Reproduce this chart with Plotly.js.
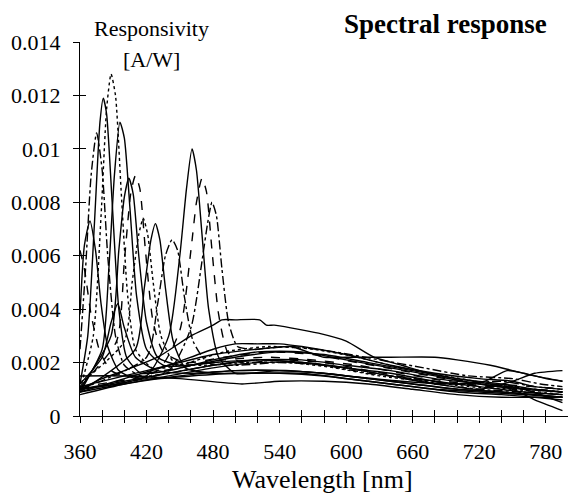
<!DOCTYPE html>
<html>
<head>
<meta charset="utf-8">
<script src="https://cdn.plot.ly/plotly-3.0.1.min.js"></script>
<style>html,body{margin:0;padding:0;background:#fff;}#chart{width:569px;height:501px;}</style>
</head>
<body>
<div id="chart"></div>
<script>
// Wavelength (nm) / responsivity (A/W) pairs, one pair per curve
const p1x = [360,364,369,374,379,385,395,410,430,460,500,540,580,620,660,700,740,770,795];
const p1y = [0.0038,0.0064,0.0073,0.0062,0.0042,0.0026,0.0017,0.0014,0.0014,0.0015,0.0016,0.0016,0.0015,0.0013,0.0011,0.0009,0.0008,0.0007,0.0006];
const p2x = [360,365,370,375,380,385,392,400,415,440,480,520,560,600,640,680,720,760,795];
const p2y = [0.0025,0.0055,0.0090,0.0106,0.0092,0.0060,0.0030,0.0019,0.0015,0.0016,0.0019,0.0021,0.0020,0.0018,0.0015,0.0012,0.0010,0.0009,0.0008];
const p3x = [360,367,373,378,381,384,389,395,402,415,440,480,520,560,600,640,680,720,760,795];
const p3y = [0.0012,0.0030,0.0072,0.0110,0.0119,0.0113,0.0080,0.0040,0.0022,0.0016,0.0017,0.0021,0.0024,0.0024,0.0021,0.0018,0.0015,0.0012,0.0010,0.0009];
const p4x = [360,372,379,384,388,392,397,403,410,425,450,490,530,570,610,650,690,730,770,795];
const p4y = [0.0010,0.0030,0.0075,0.0115,0.0128,0.0120,0.0085,0.0045,0.0025,0.0018,0.0019,0.0024,0.0026,0.0025,0.0022,0.0018,0.0015,0.0012,0.0010,0.0009];
const p5x = [360,380,386,391,396,400,405,411,420,435,460,500,540,580,620,660,700,740,770,795];
const p5y = [0.0009,0.0025,0.0055,0.0090,0.0110,0.0104,0.0078,0.0045,0.0025,0.0019,0.0019,0.0022,0.0024,0.0023,0.0020,0.0017,0.0014,0.0012,0.0010,0.0009];
const p6x = [360,388,395,400,404,408,413,420,430,450,480,520,560,600,640,680,720,760,795];
const p6y = [0.0010,0.0030,0.0062,0.0082,0.0089,0.0083,0.0060,0.0035,0.0022,0.0019,0.0020,0.0021,0.0020,0.0018,0.0016,0.0013,0.0011,0.0009,0.0008];
const p7x = [360,393,400,406,410,414,419,426,435,455,490,530,570,610,650,690,730,770,795];
const p7y = [0.0011,0.0028,0.0058,0.0084,0.0090,0.0085,0.0062,0.0035,0.0024,0.0020,0.0022,0.0024,0.0023,0.0020,0.0017,0.0014,0.0012,0.0011,0.0010];
const p8x = [360,400,407,413,417,421,426,433,445,470,510,550,590,630,670,710,750,795];
const p8y = [0.0012,0.0028,0.0050,0.0068,0.0074,0.0068,0.0050,0.0030,0.0020,0.0019,0.0020,0.0020,0.0018,0.0015,0.0013,0.0011,0.0010,0.0008];
const p9x = [360,410,418,424,428,432,437,444,455,480,520,560,600,640,680,720,760,795];
const p9y = [0.0009,0.0025,0.0048,0.0066,0.0072,0.0066,0.0048,0.0028,0.0018,0.0016,0.0016,0.0016,0.0014,0.0012,0.0010,0.0009,0.0008,0.0007];
const p10x = [360,420,430,437,443,448,454,462,475,500,540,580,620,660,700,740,770,795];
const p10y = [0.0010,0.0022,0.0042,0.0060,0.0066,0.0062,0.0045,0.0028,0.0020,0.0019,0.0020,0.0019,0.0016,0.0014,0.0012,0.0013,0.0011,0.0010];
const p11x = [360,420,440,450,456,461,465,470,476,485,500,540,580,620,660,700,740,770,795];
const p11y = [0.0010,0.0015,0.0030,0.0060,0.0085,0.0100,0.0092,0.0068,0.0040,0.0022,0.0016,0.0017,0.0016,0.0014,0.0012,0.0010,0.0009,0.0008,0.0007];
const p12x = [360,430,450,460,465,470,474,479,485,493,505,540,580,620,660,700,740,770,795];
const p12y = [0.0011,0.0017,0.0032,0.0062,0.0080,0.0089,0.0084,0.0062,0.0038,0.0024,0.0020,0.0021,0.0020,0.0017,0.0014,0.0012,0.0011,0.0010,0.0009];
const p13x = [360,440,460,470,475,479,483,488,494,502,515,550,590,630,670,710,750,775,795];
const p13y = [0.0010,0.0017,0.0033,0.0058,0.0072,0.0080,0.0075,0.0055,0.0035,0.0026,0.0025,0.0026,0.0024,0.0021,0.0018,0.0015,0.0014,0.0012,0.0011];
const p14x = [360,364,370,378,388,400,420,450,490,530,570,610,650,690,730,770,795];
const p14y = [0.0062,0.0055,0.0038,0.0024,0.0017,0.0015,0.0016,0.0018,0.0021,0.0022,0.0021,0.0019,0.0016,0.0013,0.0011,0.0010,0.0009];
const p15x = [360,380,388,394,400,410,430,460,500,540,580,620,660,700,740,770,795];
const p15y = [0.0012,0.0022,0.0035,0.0042,0.0033,0.0022,0.0017,0.0016,0.0017,0.0017,0.0016,0.0014,0.0012,0.0010,0.0009,0.0008,0.0007];
const b1x = [360,380,400,430,460,480,488,500,522,528,535,550,575,600,625,650,675,700,730,760,795];
const b1y = [0.0010,0.0014,0.0017,0.0022,0.0030,0.0034,0.0036,0.0036,0.0036,0.0034,0.0034,0.0033,0.0031,0.0028,0.0022,0.0019,0.0016,0.0014,0.0012,0.0010,0.0005];
const b2x = [360,400,440,480,500,520,540,560,600,640,680,720,750,770,795];
const b2y = [0.0009,0.0014,0.0019,0.0025,0.0027,0.0027,0.0027,0.0026,0.0023,0.0019,0.0016,0.0014,0.0013,0.0011,0.0010];
const b3x = [360,400,440,480,520,550,580,600,640,680,700,730,750,770,795];
const b3y = [0.0011,0.0015,0.0019,0.0023,0.0025,0.0026,0.0022,0.0022,0.0022,0.0022,0.0021,0.0019,0.0017,0.0015,0.0013];
const b4x = [360,400,450,506,540,580,620,660,700,740,770,795];
const b4y = [0.0015,0.0015,0.0014,0.0012,0.0013,0.0013,0.0012,0.0010,0.0008,0.0007,0.0007,0.0007];
const b5x = [360,400,440,480,520,560,600,640,680,720,750,770,795];
const b5y = [0.0008,0.0012,0.0015,0.0018,0.0020,0.0020,0.0018,0.0015,0.0012,0.0010,0.0013,0.0016,0.0017];
const b6x = [360,400,440,480,520,560,600,640,680,720,750,770,795];
const b6y = [0.0010,0.0013,0.0016,0.0019,0.0021,0.0021,0.0019,0.0017,0.0014,0.0012,0.0010,0.0006,0.0002];
const b7x = [360,400,450,500,550,600,650,700,725,745,760,780,795];
const b7y = [0.0009,0.0012,0.0015,0.0017,0.0017,0.0015,0.0013,0.0012,0.0013,0.0017,0.0016,0.0014,0.0013];

const xTickVals = [360,380,400,420,440,460,480,500,520,540,560,580,600,620,640,660,680,700,720,740,760,780];
const xTickText = ['360','','','420','','','480','','','540','','','600','','','660','','','720','','','780'];
const yTickVals = [0,0.002,0.004,0.006,0.008,0.01,0.012,0.014];
const yTickText = ['0','0.002','0.004','0.006','0.008','0.01','0.012','0.014'];

const curves = [
  [p1x,p1y,'solid'],[p2x,p2y,'dashdot'],[p3x,p3y,'solid'],[p4x,p4y,'dot'],
  [p5x,p5y,'solid'],[p6x,p6y,'solid'],[p7x,p7y,'dash'],[p8x,p8y,'dot'],
  [p9x,p9y,'solid'],[p10x,p10y,'dashdot'],[p11x,p11y,'solid'],[p12x,p12y,'dash'],
  [p13x,p13y,'dashdot'],[p14x,p14y,'dash'],[p15x,p15y,'solid'],
  [b1x,b1y,'solid'],[b2x,b2y,'solid'],[b3x,b3y,'solid'],[b4x,b4y,'solid'],
  [b5x,b5y,'solid'],[b6x,b6y,'solid'],[b7x,b7y,'solid']
];

const traces = curves.map(c => ({
  x: c[0], y: c[1], type: 'scatter', mode: 'lines',
  line: {color: '#000', width: 1.4, dash: c[2], shape: 'spline', smoothing: 0.6},
  hoverinfo: 'skip', showlegend: false
}));
// empty helper trace so the overlay axes (inner half of the crossing ticks) are drawn
traces.push({x: [], y: [], xaxis: 'x2', yaxis: 'y2', type: 'scatter', mode: 'lines', showlegend: false});

const serif = '"Times New Roman", "Liberation Serif", Times, serif';
const layout = {
  width: 569, height: 501,
  margin: {l: 80, r: 1, t: 42, b: 85},
  paper_bgcolor: '#fff', plot_bgcolor: '#fff',
  font: {family: serif, color: '#000', size: 22},
  xaxis: {
    range: [360, 800], showgrid: false, zeroline: false,
    showline: true, linecolor: '#000', linewidth: 1,
    tickmode: 'array', tickvals: xTickVals, ticktext: xTickText,
    ticks: 'outside', ticklen: 6, tickcolor: '#000', tickwidth: 1,
    ticklabelstandoff: 10,
    tickfont: {family: serif, size: 22, color: '#000'}
  },
  yaxis: {
    range: [0, 0.014], showgrid: false, zeroline: false,
    showline: true, linecolor: '#000', linewidth: 1,
    tickmode: 'array', tickvals: yTickVals, ticktext: yTickText,
    ticks: 'outside', ticklen: 6, tickcolor: '#000', tickwidth: 1,
    ticklabelstandoff: 8,
    tickfont: {family: serif, size: 22, color: '#000'}
  },
  xaxis2: {
    overlaying: 'x', range: [360, 800], showgrid: false, zeroline: false, showline: false,
    tickmode: 'array', tickvals: xTickVals, showticklabels: false,
    ticks: 'inside', ticklen: 6, tickcolor: '#000', tickwidth: 1
  },
  yaxis2: {
    overlaying: 'y', range: [0, 0.014], showgrid: false, zeroline: false, showline: false,
    tickmode: 'array', tickvals: yTickVals, showticklabels: false,
    ticks: 'inside', ticklen: 6, tickcolor: '#000', tickwidth: 1
  },
  annotations: [
    {text: 'Responsivity', xref: 'paper', yref: 'paper', x: 0.1475, y: 1.037, showarrow: false,
     xanchor: 'center', yanchor: 'middle', font: {family: serif, size: 22, color: '#000'}},
    {text: '[A/W]', xref: 'paper', yref: 'paper', x: 0.1475, y: 0.952, showarrow: false,
     xanchor: 'center', yanchor: 'middle', font: {family: serif, size: 22, color: '#000'}},
    {text: '<b>Spectral response</b>', xref: 'paper', yref: 'paper', x: 0.748, y: 1.047, showarrow: false,
     xanchor: 'center', yanchor: 'middle', font: {family: serif, size: 27, color: '#000'}},
    {text: 'Wavelength [nm]', xref: 'paper', yref: 'paper', x: 0.496, y: -0.17, showarrow: false,
     xanchor: 'center', yanchor: 'middle', font: {family: serif, size: 26, color: '#000'}}
  ]
};

Plotly.newPlot('chart', traces, layout, {staticPlot: true, displayModeBar: false});
</script>
</body>
</html>
